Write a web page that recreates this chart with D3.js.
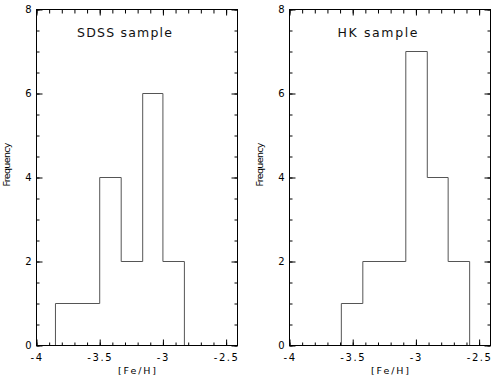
<!DOCTYPE html>
<html><head><meta charset="utf-8">
<script src="https://cdn.jsdelivr.net/npm/d3@7"></script>
<style>body{margin:0;background:#fff}svg{display:block}</style>
</head><body>
<script>
const sdssEdges = [-3.85, -3.5, -3.33, -3.16, -3.0, -2.83];
const sdssCounts = [1, 4, 2, 6, 2];
const hkEdges = [-3.59, -3.42, -3.08, -2.91, -2.745, -2.575];
const hkCounts = [1, 2, 7, 4, 2];
const xMajorTicks = [-4, -3.5, -3, -2.5];
const yMajorTicks = [0, 2, 4, 6, 8];
const titles = ["SDSS sample", "HK sample"];
const xLabel = "[Fe/H]";
const yLabel = "Frequency";

const W = 498, H = 379;
const svg = d3.select("body").append("svg").attr("width", W).attr("height", H);
const pw = 201, ph = 336, plotTop = 9.5;
const panels = [
  {left: 36.5, edges: sdssEdges, counts: sdssCounts, title: titles[0]},
  {left: 289.5, edges: hkEdges, counts: hkCounts, title: titles[1]}
];
const font = "DejaVu Sans";
const xMinor = d3.range(-4, -2.4, 0.1).map(v => +v.toFixed(2));
const yMinor = d3.range(0, 8.01, 0.5);

panels.forEach(p => {
  const g = svg.append("g").attr("transform", `translate(${p.left},${plotTop})`);
  const x = d3.scaleLinear().domain([-4, -2.41]).range([0, pw]);
  const y = d3.scaleLinear().domain([0, 8]).range([ph, 0]);

  // histogram outline
  const pts = [[p.edges[0], 0]];
  p.counts.forEach((c, i) => { pts.push([p.edges[i], c]); pts.push([p.edges[i+1], c]); });
  pts.push([p.edges[p.edges.length-1], 0]);
  g.append("path").attr("d", d3.line().x(d => x(d[0])).y(d => y(d[1]))(pts))
    .attr("fill", "none").attr("stroke", "#555").attr("stroke-width", 1);

  const styleAxis = (sel) => {
    sel.select(".domain").remove();
    sel.selectAll("line").attr("stroke", "#000");
    sel.selectAll("text").attr("font-family", font).attr("font-size", 10).attr("fill", "#000");
  };
  // minor ticks
  g.append("g").attr("transform", `translate(0,${ph})`).call(d3.axisBottom(x).tickValues(xMinor).tickSize(-3).tickFormat("")).call(styleAxis);
  g.append("g").call(d3.axisTop(x).tickValues(xMinor).tickSize(-4).tickFormat("")).call(styleAxis);
  g.append("g").call(d3.axisLeft(y).tickValues(yMinor).tickSize(-3).tickFormat("")).call(styleAxis);
  g.append("g").attr("transform", `translate(${pw},0)`).call(d3.axisRight(y).tickValues(yMinor).tickSize(-3).tickFormat("")).call(styleAxis);
  // major ticks
  g.append("g").attr("transform", `translate(0,${ph})`).call(d3.axisBottom(x).tickValues(xMajorTicks).tickSize(-6).tickPadding(8).tickFormat(d => String(d))).call(styleAxis)
    .selectAll("text").attr("letter-spacing", 1.6);
  g.append("g").call(d3.axisTop(x).tickValues(xMajorTicks).tickSize(-6).tickFormat("")).call(styleAxis);
  g.append("g").call(d3.axisLeft(y).tickValues(yMajorTicks).tickSize(-6).tickPadding(5).tickFormat(d3.format("d"))).call(styleAxis);
  g.append("g").attr("transform", `translate(${pw},0)`).call(d3.axisRight(y).tickValues(yMajorTicks).tickSize(-6).tickFormat("")).call(styleAxis);

  // frame
  g.append("rect").attr("width", pw).attr("height", ph).attr("fill", "none").attr("stroke", "#000").attr("stroke-width", 1);

  // title
  g.append("text").attr("x", 88).attr("y", 27).attr("text-anchor", "middle")
    .attr("font-family", font).attr("font-size", 12.5).attr("fill", "#111")
    .attr("textLength", p.title.length > 10 ? 95 : 80).attr("lengthAdjust", "spacing").text(p.title);
  // x label
  g.append("text").attr("x", pw/2).attr("y", ph + 28.5).attr("text-anchor", "middle")
    .attr("font-family", font).attr("font-size", 9.5).attr("fill", "#000")
    .attr("textLength", 38).attr("lengthAdjust", "spacing").text(xLabel);
  // y label
  g.append("text").attr("transform", `translate(${-26.5},${155}) rotate(-90)`).attr("text-anchor", "middle")
    .attr("font-family", font).attr("font-size", 9.5).attr("fill", "#000")
    .attr("textLength", 44).attr("lengthAdjust", "spacing").text(yLabel);
});
</script>
</body></html>
